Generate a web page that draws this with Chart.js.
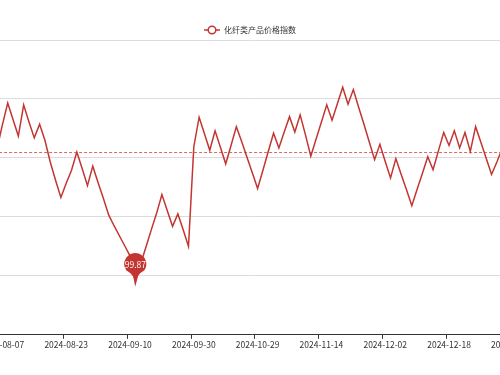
<!DOCTYPE html>
<html>
<head>
<meta charset="utf-8">
<script src="https://cdn.jsdelivr.net/npm/chart.js@4/dist/chart.umd.min.js"></script>
<style>
  html, body { margin: 0; padding: 0; background: #fff; overflow: hidden; }
  #wrap { position: absolute; left: -40px; top: 0; width: 600px; height: 375px; }
</style>
</head>
<body>
<div id="wrap"><canvas id="chart" width="600" height="375"></canvas></div>
<script>
const seriesName = "化纤类产品价格指数";

const dates = [
  "2024-08-05", "2024-08-06", "2024-08-07", "2024-08-08", "2024-08-09", "2024-08-12", "2024-08-13", "2024-08-14", "2024-08-15", "2024-08-16",
  "2024-08-19", "2024-08-20", "2024-08-21", "2024-08-22", "2024-08-23", "2024-08-26", "2024-08-27", "2024-08-28", "2024-08-29", "2024-08-30",
  "2024-09-02", "2024-09-03", "2024-09-04", "2024-09-05", "2024-09-06", "2024-09-09", "2024-09-10", "2024-09-11", "2024-09-12", "2024-09-13",
  "2024-09-18", "2024-09-19", "2024-09-20", "2024-09-23", "2024-09-24", "2024-09-25", "2024-09-26", "2024-09-27", "2024-09-30", "2024-10-14",
  "2024-10-15", "2024-10-16", "2024-10-17", "2024-10-18", "2024-10-21", "2024-10-22", "2024-10-23", "2024-10-24", "2024-10-25", "2024-10-28",
  "2024-10-29", "2024-10-30", "2024-10-31", "2024-11-01", "2024-11-04", "2024-11-05", "2024-11-06", "2024-11-07", "2024-11-08", "2024-11-11",
  "2024-11-12", "2024-11-13", "2024-11-14", "2024-11-15", "2024-11-18", "2024-11-19", "2024-11-20", "2024-11-21", "2024-11-22", "2024-11-25",
  "2024-11-26", "2024-11-27", "2024-11-28", "2024-11-29", "2024-12-02", "2024-12-03", "2024-12-04", "2024-12-05", "2024-12-06", "2024-12-09",
  "2024-12-10", "2024-12-11", "2024-12-12", "2024-12-13", "2024-12-16", "2024-12-17", "2024-12-18", "2024-12-19", "2024-12-20", "2024-12-23",
  "2024-12-24", "2024-12-25", "2024-12-26", "2024-12-27", "2024-12-30", "2024-12-31", "2025-01-02", "2025-01-03", "2025-01-06"
];

const indexValues = [
  102.30, 102.16, 102.56, 102.93, 102.65, 102.37, 102.90, 102.61, 102.34, 102.57,
  102.30, 101.93, 101.62, 101.33, 101.57, 101.79, 102.10, 101.82, 101.53, 101.86,
  101.58, 101.31, 101.03, 100.85, 100.68, 100.51, 100.34, 99.87, 100.20, 100.49,
  100.78, 101.06, 101.38, 101.11, 100.84, 101.05, 100.78, 100.50, 102.19, 102.69,
  102.41, 102.13, 102.46, 102.18, 101.90, 102.21, 102.53, 102.28, 102.01, 101.75,
  101.48, 101.79, 102.11, 102.42, 102.17, 102.44, 102.70, 102.44, 102.73, 102.39,
  102.03, 102.32, 102.61, 102.90, 102.64, 102.92, 103.20, 102.91, 103.16, 102.86,
  102.57, 102.27, 101.97, 102.23, 101.94, 101.66, 101.99, 101.72, 101.46, 101.19,
  101.47, 101.74, 102.02, 101.80, 102.12, 102.43, 102.21, 102.46, 102.17, 102.43,
  102.11, 102.53, 102.26, 101.99, 101.72, 101.93, 102.16, 102.35, 102.45
];

const tickDates = ["2024-08-07", "2024-08-23", "2024-09-10", "2024-09-30", "2024-10-29", "2024-11-14", "2024-12-02", "2024-12-18", "2025-01-06"];

// average level of the whole series (dashed mark line)
const averageValue = 102.10;

const RED = "#c23531";
const FONT = '"Noto Sans CJK SC", "Noto Sans", sans-serif';

Chart.defaults.font.family = FONT;

// dashed average line
const averageLine = {
  id: "averageLine",
  beforeDatasetsDraw(chart) {
    const { ctx, chartArea, scales } = chart;
    const y = Math.round(scales.y.getPixelForValue(averageValue)) + 0.5;
    ctx.save();
    ctx.strokeStyle = "rgba(214,90,80,0.9)";
    ctx.lineWidth = 1;
    ctx.setLineDash([3, 2]);
    ctx.beginPath();
    ctx.moveTo(chartArea.left, y);
    ctx.lineTo(chartArea.right, y);
    ctx.stroke();
    ctx.restore();
  }
};

// pin on the lowest point
const minPin = {
  id: "minPin",
  afterDatasetsDraw(chart) {
    const { ctx } = chart;
    const data = chart.data.datasets[0].data;
    let idx = 0;
    data.forEach((v, i) => { if (v < data[idx]) idx = i; });
    const pt = chart.getDatasetMeta(0).data[idx];
    const x = pt.x, y = pt.y;
    const r = 11, d = 19.5;
    const cy = y - d;
    const b = Math.acos(r / d);
    ctx.save();
    ctx.fillStyle = RED;
    ctx.beginPath();
    ctx.moveTo(x, y);
    ctx.quadraticCurveTo(x, y - 8, x + r * Math.sin(b), cy + r * Math.cos(b));
    ctx.arc(x, cy, r, Math.PI / 2 - b, Math.PI / 2 + b, true);
    ctx.quadraticCurveTo(x, y - 8, x, y);
    ctx.closePath();
    ctx.fill();
    ctx.fillStyle = "#fff";
    ctx.font = "8.5px " + FONT;
    ctx.textAlign = "center";
    ctx.textBaseline = "middle";
    ctx.fillText(data[idx].toFixed(2), x, cy + 0.5);
    ctx.restore();
  }
};

// legend: line with hollow circle + name
const topLegend = {
  id: "topLegend",
  afterDraw(chart) {
    const { ctx } = chart;
    const ox = 40, cy = 30;
    ctx.save();
    ctx.strokeStyle = RED;
    ctx.lineWidth = 1.5;
    ctx.beginPath();
    ctx.moveTo(ox + 204, cy);
    ctx.lineTo(ox + 220, cy);
    ctx.stroke();
    ctx.beginPath();
    ctx.arc(ox + 212, cy, 3.8, 0, Math.PI * 2);
    ctx.fillStyle = "#fff";
    ctx.fill();
    ctx.stroke();
    ctx.fillStyle = "#333";
    ctx.font = "8px " + FONT;
    ctx.textAlign = "left";
    ctx.textBaseline = "middle";
    ctx.fillText(seriesName, ox + 224, cy);
    ctx.restore();
  }
};

new Chart(document.getElementById("chart").getContext("2d"), {
  type: "line",
  data: {
    labels: dates,
    datasets: [
      {
        label: seriesName,
        data: indexValues,
        borderColor: RED,
        backgroundColor: RED,
        borderWidth: 1.5,
        pointRadius: 0,
        tension: 0,
        fill: false,
      },
    ],
  },
  options: {
    responsive: false,
    animation: false,
    events: [],
    layout: { padding: { left: 29.1, right: 44.5, top: 40, bottom: 24 } },
    plugins: {
      legend: { display: false },
      tooltip: { enabled: false },
    },
    scales: {
      x: {
        offset: true,
        grid: {
          offset: true,
          drawOnChartArea: false,
          drawTicks: true,
          tickLength: 4,
          color: (c) => (tickDates.includes(dates[c.index]) ? "#333" : "rgba(0,0,0,0)"),
        },
        border: { display: true, color: "#333", width: 1 },
        ticks: {
          autoSkip: false,
          maxRotation: 0,
          minRotation: 0,
          padding: 1,
          color: "#333",
          font: { size: 8.5 },
          callback: (v, i) => (tickDates.includes(dates[i]) ? dates[i] : ""),
        },
        afterFit: (s) => { s.paddingLeft = 0; s.paddingRight = 0; },
      },
      y: {
        min: 99,
        max: 104,
        ticks: { display: false, stepSize: 1 },
        border: { display: false },
        grid: { color: "#dcdcdc", drawTicks: false },
        afterFit: (s) => { s.width = 0; },
      },
    },
  },
  plugins: [averageLine, minPin, topLegend],
});
</script>
</body>
</html>
